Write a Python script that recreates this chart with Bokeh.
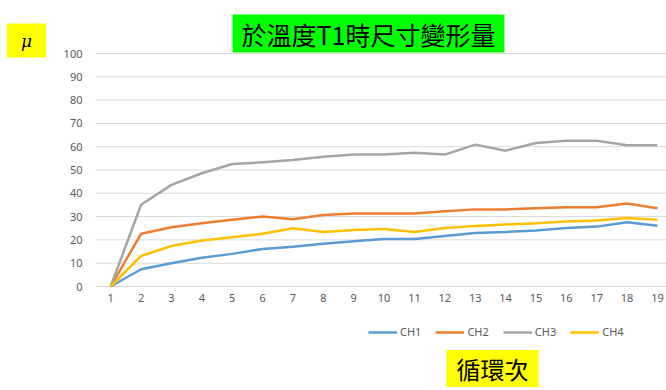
from bokeh.plotting import figure
from bokeh.models import Range1d, Label, Legend, LegendItem
from bokeh.core.properties import value
from bokeh.embed import file_html
from bokeh.resources import INLINE

cycles = [1, 2, 3, 4, 5, 6, 7, 8, 9, 10, 11, 12, 13, 14, 15, 16, 17, 18, 19]
ch1 = [0, 7.4, 10.0, 12.3, 14.0, 16.1, 17.1, 18.3, 19.4, 20.4, 20.4, 21.7, 23.0, 23.4, 24.0, 25.1, 25.7, 27.6, 26.1]
ch2 = [0, 22.6, 25.4, 27.1, 28.6, 30.0, 28.9, 30.7, 31.3, 31.3, 31.3, 32.3, 33.1, 33.1, 33.6, 34.0, 34.0, 35.6, 33.6]
ch3 = [0, 35.1, 43.6, 48.6, 52.6, 53.3, 54.3, 55.7, 56.6, 56.6, 57.4, 56.6, 60.9, 58.3, 61.6, 62.6, 62.6, 60.6, 60.6]
ch4 = [0, 13.1, 17.4, 19.7, 21.1, 22.6, 25.0, 23.4, 24.3, 24.7, 23.4, 25.1, 26.0, 26.6, 27.1, 27.9, 28.3, 29.4, 28.6]
series_names = ["CH1", "CH2", "CH3", "CH4"]
series_colors = ["#5B9BD5", "#ED7D31", "#A5A5A5", "#FFC000"]
y_ticks = [0, 10, 20, 30, 40, 50, 60, 70, 80, 90, 100]
title_text = "於溫度T1時尺寸變形量"
y_unit_text = "μ"
x_title_text = "循環次"

W, H = 666, 390
X0, X1 = 0.5, 19.0          # category extent of the plot area
FL, FR, FT, FB = 95, 657, 53, 286  # plot-area edges in canvas px
KX = (X1 - X0) / (FR - FL)
KY = 100.0 / (FB - FT)


def dx(px):
    return X0 + (px - FL) * KX


def dy(py):
    return (FB - py) * KY


p = figure(width=W, height=H, output_backend="svg", toolbar_location=None,
           x_range=Range1d(dx(0), dx(W)), y_range=Range1d(dy(H), dy(0)),
           min_border=0, x_axis_type=None, y_axis_type=None)
p.outline_line_color = None
p.grid.visible = False
p.background_fill_color = "white"
p.border_fill_color = "white"

# horizontal gridlines
p.segment(x0=[X0] * len(y_ticks), y0=y_ticks, x1=[dx(FR + 20)] * len(y_ticks), y1=y_ticks,
          line_color="#D9D9D9", line_width=1)

# tick labels
p.text(x=[dx(82)] * len(y_ticks), y=y_ticks, text=[str(t) for t in y_ticks],
       text_align="right", text_baseline="middle", text_color="#595959",
       text_font=value("Noto Sans"), text_font_size="11px")
p.text(x=cycles, y=[dy(297)] * len(cycles), text=[str(c) for c in cycles],
       text_align="center", text_baseline="middle", text_color="#595959",
       text_font=value("Noto Sans"), text_font_size="11px")

renderers = []
for vals, color in zip([ch1, ch2, ch3, ch4], series_colors):
    r = p.line(cycles, vals, line_color=color, line_width=2.5)
    renderers.append(r)

legend = Legend(items=[LegendItem(label=n, renderers=[r]) for n, r in zip(series_names, renderers)],
                orientation="horizontal", location=(368, H - 339),
                border_line_color=None, background_fill_alpha=0,
                padding=0, margin=0, spacing=14, glyph_width=29, glyph_height=14,
                label_standoff=3, label_height=14,
                label_text_font="Noto Sans", label_text_font_size="11px",
                label_text_color="#595959")
p.add_layout(legend, "center")

p.add_layout(Label(x=dx(368), y=dy(33), text=title_text, text_align="center",
                   text_baseline="middle", text_font="Noto Sans CJK TC",
                   text_font_size="25px", text_color="black",
                   background_fill_color="#00FF00", padding=(9, 1)))
p.add_layout(Label(x=dx(26), y=dy(40), text=y_unit_text, text_align="center",
                   text_baseline="middle", text_font="DejaVu Serif",
                   text_font_style="italic", text_font_size="17px", text_color="black",
                   background_fill_color="#FFFF00", padding=(14, 7)))
p.add_layout(Label(x=dx(492), y=dy(368), text=x_title_text, text_align="center",
                   text_baseline="middle", text_font="Noto Sans CJK TC",
                   text_font_size="24px", text_color="black",
                   background_fill_color="#FFFF00", padding=(10, 1)))

open("out.html", "w").write(file_html(p, INLINE))
